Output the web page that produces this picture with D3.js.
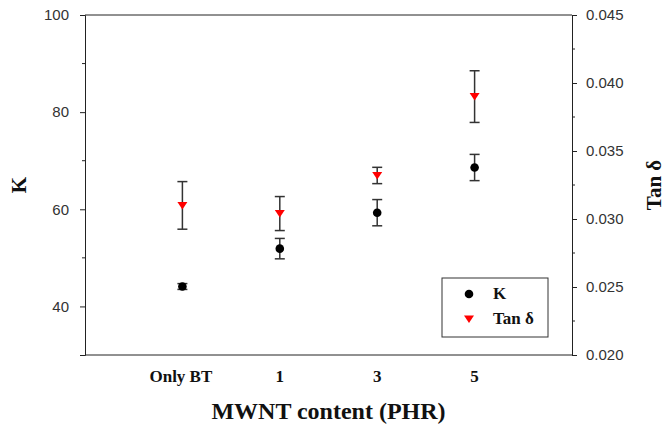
<!DOCTYPE html>
<html>
<head>
<meta charset="utf-8">
<script src="https://cdn.jsdelivr.net/npm/d3@7"></script>
<style>
  body { margin: 0; background: #fff; }
  svg { display: block; }
</style>
</head>
<body>
<svg id="chart"></svg>
<script>
const width = 665, height = 428;

// data
const categories = ["Only BT", "1", "3", "5"];
const kValues = [44.1, 51.9, 59.3, 68.6];
const kErrors = [0.6, 2.1, 2.7, 2.7];
const tanValues = [0.0310, 0.0304, 0.0332, 0.0390];
const tanErrors = [0.00175, 0.00125, 0.0006, 0.0019];
const kTicks = [40, 60, 80, 100];
const tanTicks = [0.020, 0.025, 0.030, 0.035, 0.040, 0.045];

const margin = { top: 15, right: 93, bottom: 73, left: 85 };

const svg = d3.select("#chart")
    .attr("width", width)
    .attr("height", height);

const x = d3.scalePoint()
    .domain(categories)
    .range([margin.left, width - margin.right])
    .padding(1);

const yK = d3.scaleLinear()
    .domain([30, 100])
    .range([height - margin.bottom, margin.top]);

const yTan = d3.scaleLinear()
    .domain([0.020, 0.045])
    .range([height - margin.bottom, margin.top]);

const serif = "'Liberation Serif', 'Times New Roman', serif";
const sans = "'Liberation Sans', Arial, sans-serif";

// frame: top and bottom lines
svg.append("line")
    .attr("x1", margin.left).attr("x2", width - margin.right)
    .attr("y1", margin.top).attr("y2", margin.top)
    .attr("stroke", "#222");
svg.append("line")
    .attr("x1", margin.left).attr("x2", width - margin.right)
    .attr("y1", height - margin.bottom).attr("y2", height - margin.bottom)
    .attr("stroke", "#222");

// left axis
const leftAxis = svg.append("g")
    .attr("transform", `translate(${margin.left},0)`)
    .call(d3.axisLeft(yK).tickValues(kTicks).tickSize(5).tickPadding(11));
leftAxis.select(".domain").attr("stroke", "#222");
leftAxis.selectAll(".tick line").attr("stroke", "#222");
leftAxis.selectAll("text")
    .attr("font-family", sans).attr("font-size", 15).attr("fill", "#333");
leftAxis.selectAll(".minor")
    .data([50, 70, 90]).join("line")
    .attr("class", "minor")
    .attr("x1", -3).attr("x2", 0)
    .attr("y1", d => yK(d)).attr("y2", d => yK(d))
    .attr("stroke", "#222");

// right axis
const rightAxis = svg.append("g")
    .attr("transform", `translate(${width - margin.right},0)`)
    .call(d3.axisRight(yTan).tickValues(tanTicks).tickFormat(d3.format(".3f")).tickSize(5).tickPadding(9));
rightAxis.select(".domain").attr("stroke", "#222");
rightAxis.selectAll(".tick line").attr("stroke", "#222");
rightAxis.selectAll("text")
    .attr("font-family", sans).attr("font-size", 15).attr("fill", "#333");
rightAxis.selectAll(".minor")
    .data([0.0225, 0.0275, 0.0325, 0.0375, 0.0425]).join("line")
    .attr("class", "minor")
    .attr("x1", 0).attr("x2", 3)
    .attr("y1", d => yTan(d)).attr("y2", d => yTan(d))
    .attr("stroke", "#222");

// category labels
svg.append("g").selectAll("text")
    .data(categories).join("text")
    .attr("x", d => x(d) - (d === "Only BT" ? 1.5 : 0))
    .attr("y", height - margin.bottom + 27)
    .attr("text-anchor", "middle")
    .attr("font-family", serif).attr("font-weight", "bold").attr("font-size", 17)
    .attr("fill", "#111")
    .text(d => d);

// axis titles
svg.append("text")
    .attr("x", (margin.left + width - margin.right) / 2)
    .attr("y", height - 9)
    .attr("text-anchor", "middle")
    .attr("font-family", serif).attr("font-weight", "bold").attr("font-size", 24)
    .attr("fill", "#111")
    .text("MWNT content (PHR)");

svg.append("text")
    .attr("transform", `translate(26,185) rotate(-90)`)
    .attr("text-anchor", "middle")
    .attr("font-family", serif).attr("font-weight", "bold").attr("font-size", 21)
    .attr("fill", "#111")
    .text("K");

svg.append("text")
    .attr("transform", `translate(661,185) rotate(-90)`)
    .attr("text-anchor", "middle")
    .attr("font-family", serif).attr("font-weight", "bold").attr("font-size", 21)
    .attr("fill", "#111")
    .text("Tan δ");

const kData = categories.map((c, i) => ({ c, v: kValues[i], e: kErrors[i] }));
const tanData = categories.map((c, i) => ({ c, v: tanValues[i], e: tanErrors[i] }));

function errorBars(data, y) {
    const g = svg.append("g").attr("stroke", "#333").attr("stroke-width", 1.5);
    g.selectAll(".stem").data(data).join("line")
        .attr("x1", d => x(d.c)).attr("x2", d => x(d.c))
        .attr("y1", d => y(d.v - d.e)).attr("y2", d => y(d.v + d.e));
    g.selectAll(".capt").data(data).join("line")
        .attr("x1", d => x(d.c) - 5).attr("x2", d => x(d.c) + 5)
        .attr("y1", d => y(d.v + d.e)).attr("y2", d => y(d.v + d.e));
    g.selectAll(".capb").data(data).join("line")
        .attr("x1", d => x(d.c) - 5).attr("x2", d => x(d.c) + 5)
        .attr("y1", d => y(d.v - d.e)).attr("y2", d => y(d.v - d.e));
}

errorBars(tanData, yTan);
errorBars(kData, yK);

const tri = "M-5,-3.5L5,-3.5L0,4Z";

svg.append("g").selectAll("path")
    .data(tanData).join("path")
    .attr("d", tri)
    .attr("transform", d => `translate(${x(d.c)},${yTan(d.v)})`)
    .attr("fill", "#ff0000");

svg.append("g").selectAll("circle")
    .data(kData).join("circle")
    .attr("cx", d => x(d.c)).attr("cy", d => yK(d.v))
    .attr("r", 4.3)
    .attr("fill", "#000");

// legend
const legend = svg.append("g").attr("transform", "translate(442,278)");
legend.append("rect")
    .attr("width", 106).attr("height", 59)
    .attr("fill", "#fff").attr("stroke", "#333");
legend.append("circle").attr("cx", 27).attr("cy", 16).attr("r", 4.3).attr("fill", "#000");
legend.append("path").attr("d", tri).attr("transform", "translate(27,41)").attr("fill", "#ff0000");
legend.selectAll("text")
    .data(["K", "Tan δ"]).join("text")
    .attr("x", 51)
    .attr("y", (d, i) => 21 + i * 25)
    .attr("font-family", serif).attr("font-weight", "bold").attr("font-size", 17)
    .attr("fill", "#111")
    .text(d => d);
</script>
</body>
</html>
